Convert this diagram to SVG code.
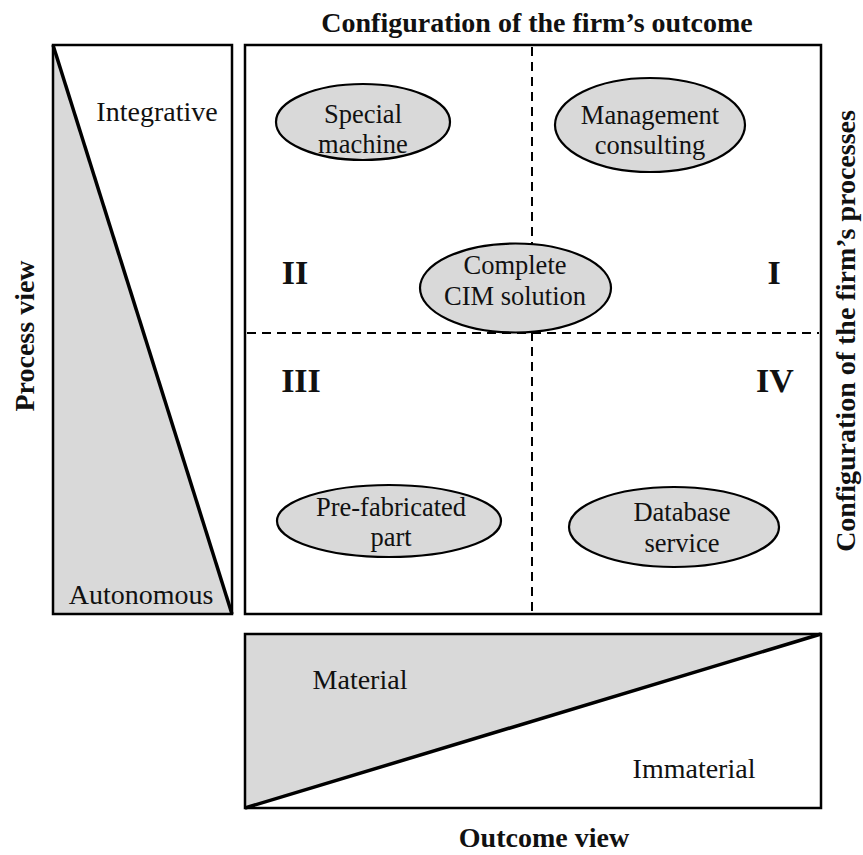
<svg xmlns="http://www.w3.org/2000/svg" width="863" height="855" viewBox="0 0 863 855">
<style>
.box{fill:none;stroke:#000;stroke-width:2.5}
.tri{fill:#d9d9d9;stroke:none}
.diag{stroke:#000;stroke-width:3.5;fill:none}
.dash{stroke:#000;stroke-width:2;stroke-dasharray:9,6;fill:none}
.ell{fill:#d9d9d9;stroke:#000;stroke-width:2.2}
text{font-family:"Liberation Serif","Times New Roman",serif;fill:#111}
.lbl{font-size:26.5px;text-anchor:middle}
.ax{font-size:28px;text-anchor:middle}
.bold{font-size:28px;font-weight:bold;text-anchor:middle}
.rn{font-size:34px;font-weight:bold;text-anchor:middle}
</style>
<rect width="863" height="855" fill="#fff"/>
<g id="process-view">
<polygon class="tri" points="53,45 232,614 53,614"/>
<rect class="box" x="53" y="45" width="179" height="569"/>
<line class="diag" x1="53" y1="45" x2="232" y2="614"/>
<text class="ax" x="157" y="121">Integrative</text>
<text class="ax" x="141" y="604">Autonomous</text>
<text class="bold" transform="translate(34,336) rotate(-90)">Process view</text>
</g>
<g id="outcome-view">
<polygon class="tri" points="245,634 821,634 245,808"/>
<rect class="box" x="245" y="634" width="576" height="174"/>
<line class="diag" x1="245" y1="808" x2="821" y2="634"/>
<text class="ax" x="360" y="689">Material</text>
<text class="ax" x="694" y="778">Immaterial</text>
<text class="bold" x="544" y="847" font-size="27">Outcome view</text>
</g>
<g id="matrix">
<rect class="box" x="245" y="45" width="576" height="569"/>
<text class="bold" x="537" y="32">Configuration of the firm’s outcome</text>
<text class="bold" transform="translate(855,331) rotate(-90)">Configuration of the firm’s processes</text>
</g>
<g id="connectors">
<line class="dash" x1="532" y1="47" x2="532" y2="612"/>
<line class="dash" x1="247" y1="333" x2="819" y2="333"/>
</g>
<g id="quadrant-labels">
<text class="rn" x="295" y="284">II</text>
<text class="rn" x="774" y="284">I</text>
<text class="rn" x="301" y="392">III</text>
<text class="rn" x="775" y="392">IV</text>
</g>
<g id="special-machine">
<ellipse class="ell" cx="363" cy="122" rx="87" ry="38"/>
<text class="lbl" x="363" y="123">Special</text>
<text class="lbl" x="363" y="153">machine</text>
</g>
<g id="management-consulting">
<ellipse class="ell" cx="650" cy="125" rx="95" ry="47"/>
<text class="lbl" x="650" y="124">Management</text>
<text class="lbl" x="650" y="154">consulting</text>
</g>
<g id="cim-solution">
<ellipse class="ell" cx="515.5" cy="288" rx="95.5" ry="44.5"/>
<text class="lbl" x="515" y="274">Complete</text>
<text class="lbl" x="515" y="305">CIM solution</text>
</g>
<g id="prefabricated-part">
<ellipse class="ell" cx="389" cy="521" rx="112" ry="36"/>
<text class="lbl" x="391" y="516">Pre-fabricated</text>
<text class="lbl" x="391" y="546">part</text>
</g>
<g id="database-service">
<ellipse class="ell" cx="674" cy="527" rx="105" ry="40"/>
<text class="lbl" x="682" y="521">Database</text>
<text class="lbl" x="682" y="552">service</text>
</g>
</svg>
